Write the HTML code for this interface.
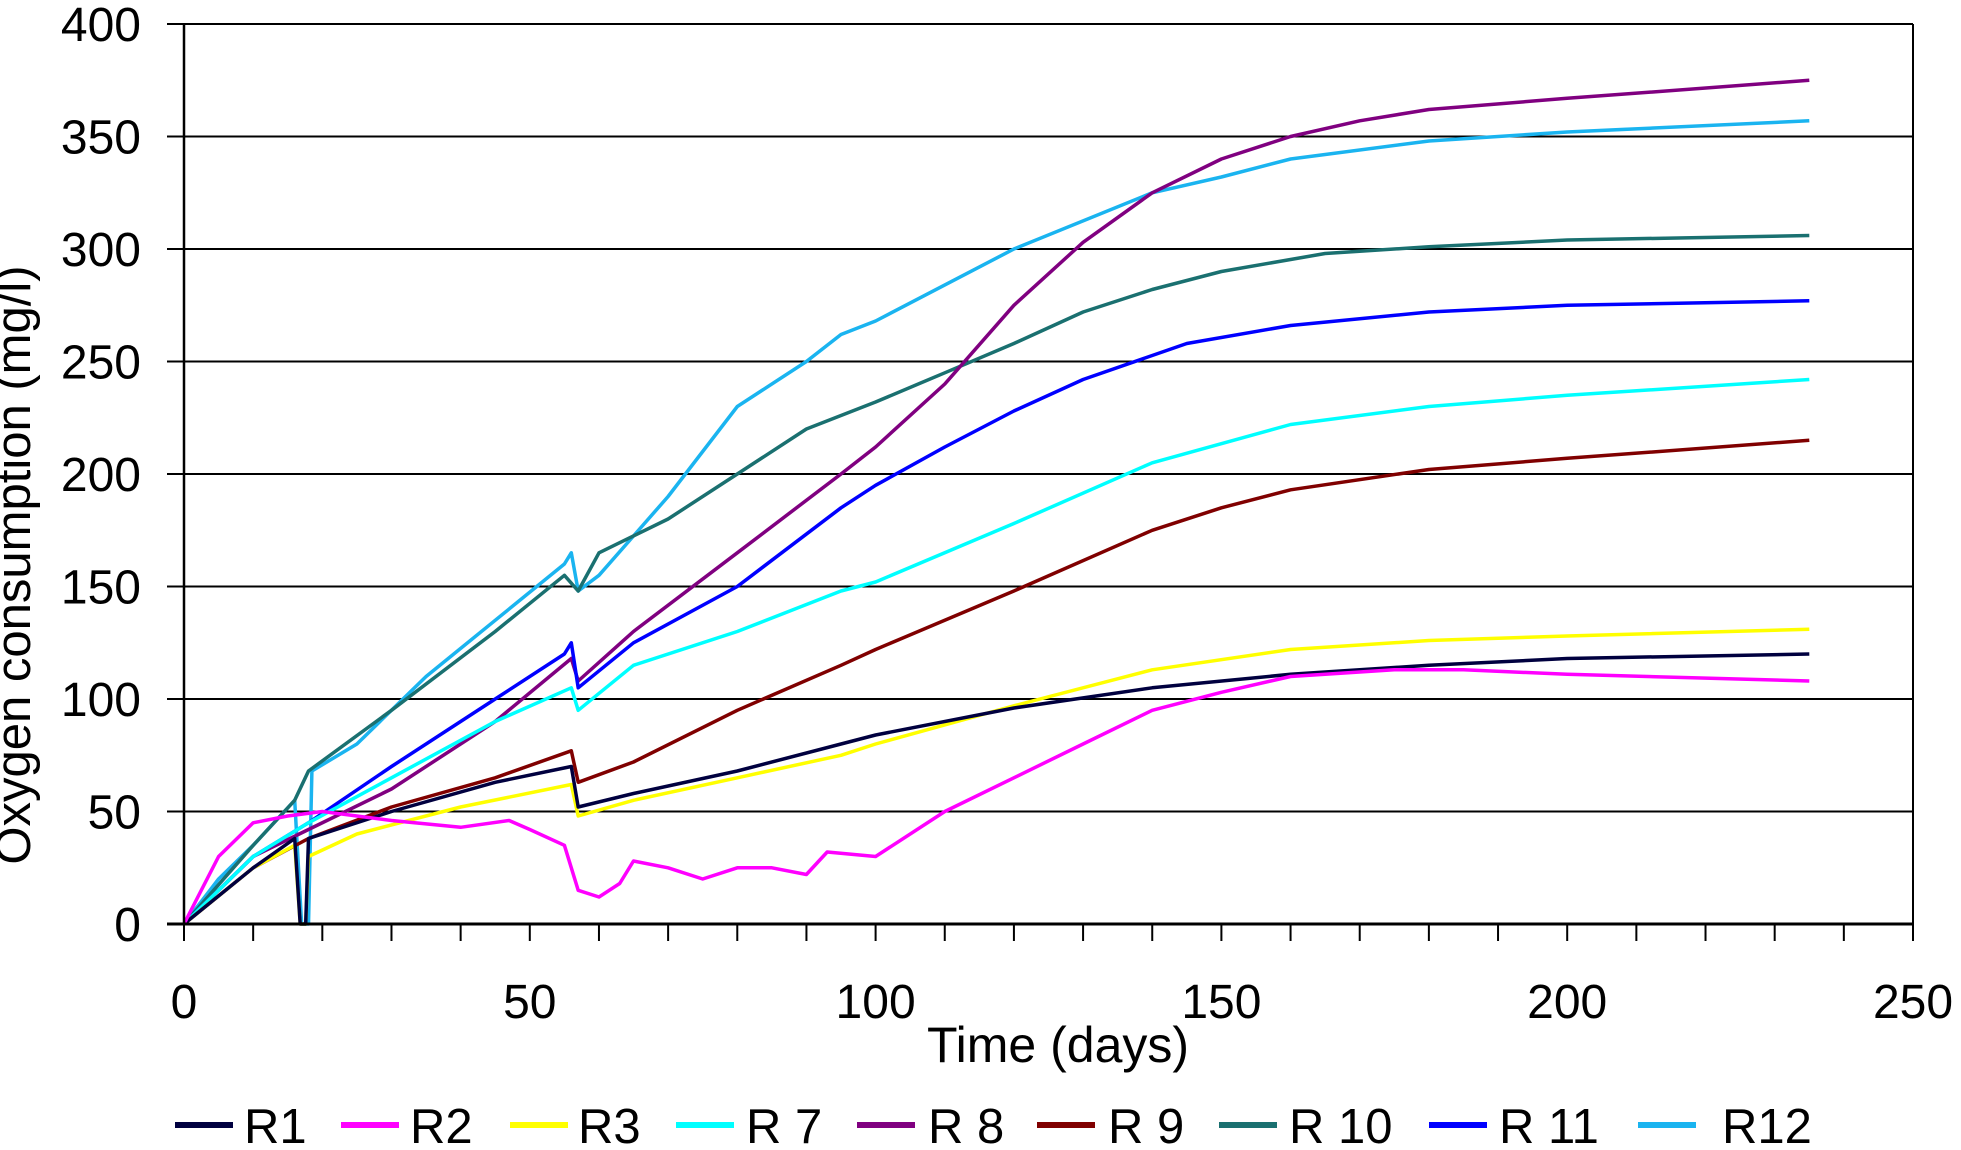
<!DOCTYPE html>
<html><head><meta charset="utf-8"><style>
html,body{margin:0;padding:0;background:#fff;}
svg{display:block;font-family:"Liberation Sans",Arial,sans-serif;}
</style></head><body>
<svg id="chart" width="1961" height="1150" viewBox="0 0 1961 1150">
<g id="grid"></g>
<g id="series"></g>
<g id="axes"></g>
<text x="30" y="565" font-size="49" text-anchor="middle" transform="rotate(-90 30 565)">Oxygen consumption (mg/l)</text>
<text x="1058" y="1062" font-size="50" text-anchor="middle">Time (days)</text>
<g id="legend"></g>
</svg>
<script>
const yTicks=[0,50,100,150,200,250,300,350,400];
const xTicks=[0,50,100,150,200,250];
const names=["R1","R2","R3","R 7","R 8","R 9","R 10","R 11","R12"];
const colors=["#00003f","#ff00ff","#ffff00","#00ffff","#800080","#800000","#1a7070","#0000ff","#1ab4f0"];
const r1=[[0,0],[10,25],[16,38],[16.8,0],[17.6,0],[18,38],[30,50],[45,63],[56,70],[57,52],[65,58],[80,68],[95,80],[100,84],[120,96],[140,105],[160,111],[180,115],[200,118],[235,120]];
const r2=[[0,0],[5,30],[10,45],[15,48],[20,50],[30,46],[40,43],[47,46],[50,42],[55,35],[57,15],[60,12],[63,18],[65,28],[70,25],[75,20],[80,25],[85,25],[90,22],[93,32],[100,30],[110,50],[120,65],[130,80],[140,95],[150,103],[160,110],[175,113],[185,113],[200,111],[235,108]];
const r3=[[0,0],[10,25],[16,35],[16.8,0],[17.6,0],[18,30],[25,40],[40,52],[56,62],[57,48],[65,55],[80,65],[95,75],[100,80],[120,97],[140,113],[160,122],[180,126],[200,128],[235,131]];
const r7=[[0,0],[10,30],[18,45],[30,65],[45,90],[56,105],[57,95],[65,115],[80,130],[95,148],[100,152],[120,178],[140,205],[160,222],[180,230],[200,235],[235,242]];
const r8=[[0,0],[10,30],[18,42],[30,60],[45,90],[56,118],[57,108],[65,130],[80,165],[95,200],[100,212],[110,240],[120,275],[130,303],[140,325],[150,340],[160,350],[170,357],[180,362],[200,367],[235,375]];
const r9=[[0,0],[10,25],[18,38],[30,52],[45,65],[56,77],[57,63],[65,72],[80,95],[95,115],[100,122],[120,148],[140,175],[150,185],[160,193],[180,202],[200,207],[235,215]];
const r10=[[0,0],[10,35],[16,55],[18,68],[30,95],[45,130],[55,155],[57,148],[60,165],[70,180],[80,200],[90,220],[100,232],[110,245],[120,258],[130,272],[140,282],[150,290],[165,298],[180,301],[200,304],[235,306]];
const r11=[[0,0],[10,30],[18,45],[30,70],[45,100],[55,120],[56,125],[57,105],[65,125],[80,150],[95,185],[100,195],[110,212],[120,228],[130,242],[145,258],[160,266],[180,272],[200,275],[235,277]];
const r12=[[0,0],[5,20],[10,35],[16,55],[17,0],[18,0],[18.5,68],[25,80],[35,110],[45,135],[55,160],[56,165],[57,148],[60,155],[70,190],[80,230],[90,250],[95,262],[100,268],[120,300],[140,325],[150,332],[160,340],[180,348],[200,352],[235,357]];
const allSeries=[r1,r2,r3,r7,r8,r9,r10,r11,r12];
const drawOrder=[8,6,4,7,3,5,2,0,1];
const L=184,R=1913,T=24,B=924;
const xs=d=>L+(R-L)*d/250;
const ys=v=>B-(B-T)*v/400;
const NS="http://www.w3.org/2000/svg";
function mk(tag,attrs,parent){const e=document.createElementNS(NS,tag);for(const k in attrs)e.setAttribute(k,attrs[k]);parent.appendChild(e);return e;}
const grid=document.getElementById('grid'),axes=document.getElementById('axes'),ser=document.getElementById('series'),leg=document.getElementById('legend');
yTicks.forEach(v=>{
  if(v>0){const g=mk('line',{x1:L,x2:R,y1:ys(v),y2:ys(v),stroke:'#000','stroke-width':2},grid);
  
  }
  const t=mk('line',{x1:L-17,x2:L,y1:ys(v),y2:ys(v),stroke:'#000','stroke-width':2},axes);
  
  
  const tx=mk('text',{x:141,y:ys(v)+17,'font-size':48,'text-anchor':'end'},axes);tx.textContent=v;
  
  
});
mk('line',{x1:R,x2:R,y1:T,y2:B,stroke:'#000','stroke-width':2},axes);
mk('line',{x1:L,x2:L,y1:T,y2:B,stroke:'#000','stroke-width':2.5},axes);
mk('line',{x1:L-17,x2:R,y1:B,y2:B,stroke:'#000','stroke-width':3},axes);
for(let d=0;d<=250;d+=10){
  const t=mk('line',{x1:xs(d),x2:xs(d),y1:B,y2:B+17,stroke:'#000','stroke-width':2},axes);
  
  
}
xTicks.forEach(d=>{
  const tx=mk('text',{x:xs(d),y:1018,'font-size':48,'text-anchor':'middle'},axes);tx.textContent=d;
  
  
});
drawOrder.forEach(i=>{
  const pts=allSeries[i].map(p=>xs(p[0]).toFixed(1)+','+ys(p[1]).toFixed(1)).join(' ');
  const pl=mk('polyline',{points:pts,fill:'none',stroke:colors[i],'stroke-width':3.5,'stroke-linejoin':'round'},ser);
  
  
});
const legX=[175,341,510,676,857,1037,1219,1429,1638];
const legTX=[244,410,578,746,928,1108,1289,1499,1722];
names.forEach((n,i)=>{
  const g=mk('g',{},leg);
  
  
  mk('line',{x1:legX[i],x2:legX[i]+58,y1:1125,y2:1125,stroke:colors[i],'stroke-width':6},g);
  const t=mk('text',{x:legTX[i],y:1143,'font-size':49},g);t.textContent=n;
});
</script>
</body></html>
